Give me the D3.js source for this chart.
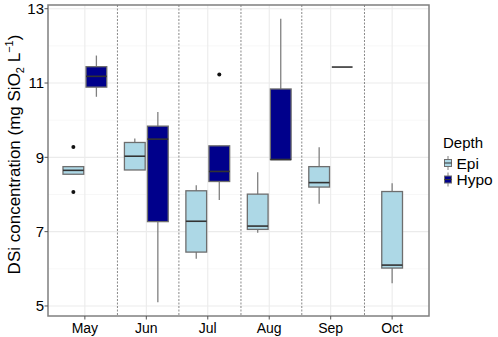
<!DOCTYPE html>
<html><head><meta charset="utf-8">
<script src="https://cdn.jsdelivr.net/npm/d3@7"></script>
<style>body{margin:0;background:#fff}svg{display:block}text{font-family:"Liberation Sans",Arial,sans-serif}</style>
</head><body>
<svg id="c" width="498" height="337"></svg>
<script>
const months = ["May","Jun","Jul","Aug","Sep","Oct"];
const depths = ["Epi","Hypo"];
const depthColors = ["#add8e6","#00008b"];
const yTicks = [5,7,9,11,13];
const yMinor = [6,8,10,12];
const separators = [1.53,2.53,3.54,4.53,5.55];

const boxMonth  = ["May","May","Jun","Jun","Jul","Jul","Aug","Aug","Sep","Sep","Oct"];
const boxDepth  = ["Epi","Hypo","Epi","Hypo","Epi","Hypo","Epi","Hypo","Epi","Hypo","Epi"];
const whiskLow  = [8.545,10.63,8.66,5.10,6.27,7.85,6.97,8.94,7.75,11.43,5.61];
const q1        = [8.545,10.89,8.66,7.27,6.45,8.35,7.06,8.94,8.20,11.43,6.02];
const medianV   = [8.65,11.18,9.03,9.49,7.28,8.62,7.15,8.94,8.32,11.43,6.10];
const q3        = [8.75,11.44,9.40,9.84,8.10,9.31,8.01,10.84,8.75,11.43,8.08];
const whiskHigh = [8.75,11.74,9.51,10.22,8.25,9.31,8.60,12.73,9.27,11.43,8.30];

const outMonth = ["May","May","Jul"];
const outDepth = ["Epi","Epi","Hypo"];
const outValue = [9.28,8.07,11.23];

const svg = d3.select("#c");
const L=48,R=429,T=5,B=316;
const x = d3.scaleLinear().domain([0.4,6.6]).range([L,R]);
const y = d3.scaleLinear().domain([4.73,13.1]).range([B,T]);
const bw = 0.3375, off = 0.1875;

function groupCount(m){return boxMonth.filter(d=>d===m).length;}
function cx(m,dep){
  const i = months.indexOf(m)+1;
  if(groupCount(m)===1) return x(i);
  return x(i + (dep==="Epi"?-off:off));
}

const g = svg.append("g");
// grid
g.selectAll(".ymin").data(yMinor).join("line").attr("x1",L).attr("x2",R)
 .attr("y1",d=>y(d)).attr("y2",d=>y(d)).attr("stroke","#f2f2f2").attr("stroke-width",0.6);
g.selectAll(".ymaj").data(yTicks).join("line").attr("x1",L).attr("x2",R)
 .attr("y1",d=>y(d)).attr("y2",d=>y(d)).attr("stroke","#ebebeb").attr("stroke-width",1.1);
g.selectAll(".xmaj").data(months).join("line").attr("y1",T).attr("y2",B)
 .attr("x1",(d,i)=>x(i+1)).attr("x2",(d,i)=>x(i+1)).attr("stroke","#ebebeb").attr("stroke-width",1.1);
// separators
g.selectAll(".sep").data(separators).join("line").attr("y1",T).attr("y2",B)
 .attr("x1",d=>x(d)).attr("x2",d=>x(d)).attr("stroke","#888").attr("stroke-width",1).attr("stroke-dasharray","2,1.5");

// boxes
const idx = d3.range(boxMonth.length);
const bg = g.selectAll(".box").data(idx).join("g");
bg.append("line").attr("x1",i=>cx(boxMonth[i],boxDepth[i])).attr("x2",i=>cx(boxMonth[i],boxDepth[i]))
 .attr("y1",i=>y(whiskLow[i])).attr("y2",i=>y(whiskHigh[i])).attr("stroke","#808080").attr("stroke-width",1.3);
bg.append("rect").attr("x",i=>cx(boxMonth[i],boxDepth[i])-(x(bw)-x(0))/2).attr("width",x(bw)-x(0))
 .attr("y",i=>y(q3[i])).attr("height",i=>Math.max(0,y(q1[i])-y(q3[i])))
 .attr("fill",i=>depthColors[depths.indexOf(boxDepth[i])]).attr("stroke","#6e6e6e").attr("stroke-width",1.3);
bg.append("line").attr("x1",i=>cx(boxMonth[i],boxDepth[i])-(x(bw)-x(0))/2).attr("x2",i=>cx(boxMonth[i],boxDepth[i])+(x(bw)-x(0))/2)
 .attr("y1",i=>y(medianV[i])).attr("y2",i=>y(medianV[i])).attr("stroke","#333").attr("stroke-width",1.6);
// outliers
g.selectAll(".out").data(outValue).join("circle").attr("cx",(d,i)=>cx(outMonth[i],outDepth[i]))
 .attr("cy",d=>y(d)).attr("r",2).attr("fill","#111");

// panel border
g.append("rect").attr("x",L).attr("y",T).attr("width",R-L).attr("height",B-T).attr("fill","none").attr("stroke","#7f7f7f").attr("stroke-width",1.5);

// axes ticks & labels
g.selectAll(".yt").data(yTicks).join("line").attr("x1",L-3.5).attr("x2",L).attr("y1",d=>y(d)).attr("y2",d=>y(d)).attr("stroke","#555");
g.selectAll(".yl").data(yTicks).join("text").attr("x",L-4).attr("y",d=>y(d)).attr("dy","0.36em")
 .attr("text-anchor","end").attr("font-size",15).attr("fill","#000").text(d=>d);
g.selectAll(".xt").data(months).join("line").attr("x1",(d,i)=>x(i+1)).attr("x2",(d,i)=>x(i+1)).attr("y1",B).attr("y2",B+3.5).attr("stroke","#555");
g.selectAll(".xl").data(months).join("text").attr("x",(d,i)=>x(i+1)).attr("y",B+17)
 .attr("text-anchor","middle").attr("font-size",14).attr("fill","#000").text(d=>d);

// y title
const yt = svg.append("text").attr("transform",`translate(20,${(T+B)/2 - 6}) rotate(-90)`).attr("text-anchor","middle")
 .attr("font-size",17).attr("fill","#000");
yt.append("tspan").text("DSi concentration (mg SiO");
yt.append("tspan").attr("font-size",11).attr("dy",4).text("2");
yt.append("tspan").attr("dy",-4).text(" L");
yt.append("tspan").attr("font-size",11).attr("dy",-7).text("\u22121");
yt.append("tspan").attr("dy",7).text(")");

// legend
svg.append("text").attr("x",443).attr("y",147.5).attr("font-size",15).attr("fill","#000").text("Depth");
const lg = svg.selectAll(".lg").data(depths).join("g").attr("transform",(d,i)=>`translate(448,${163+i*16.5})`);
lg.append("line").attr("y1",-7).attr("y2",7).attr("stroke","#808080").attr("stroke-width",1);
lg.append("rect").attr("x",-3.5).attr("y",-3.5).attr("width",7).attr("height",7).attr("fill",(d,i)=>depthColors[i]).attr("stroke","#6e6e6e");
lg.append("line").attr("x1",-3.5).attr("x2",3.5).attr("stroke","#333").attr("stroke-width",1);
lg.append("text").attr("x",8.5).attr("dy","0.36em").attr("font-size",15.5).attr("fill","#000").text(d=>d);
</script></body></html>
